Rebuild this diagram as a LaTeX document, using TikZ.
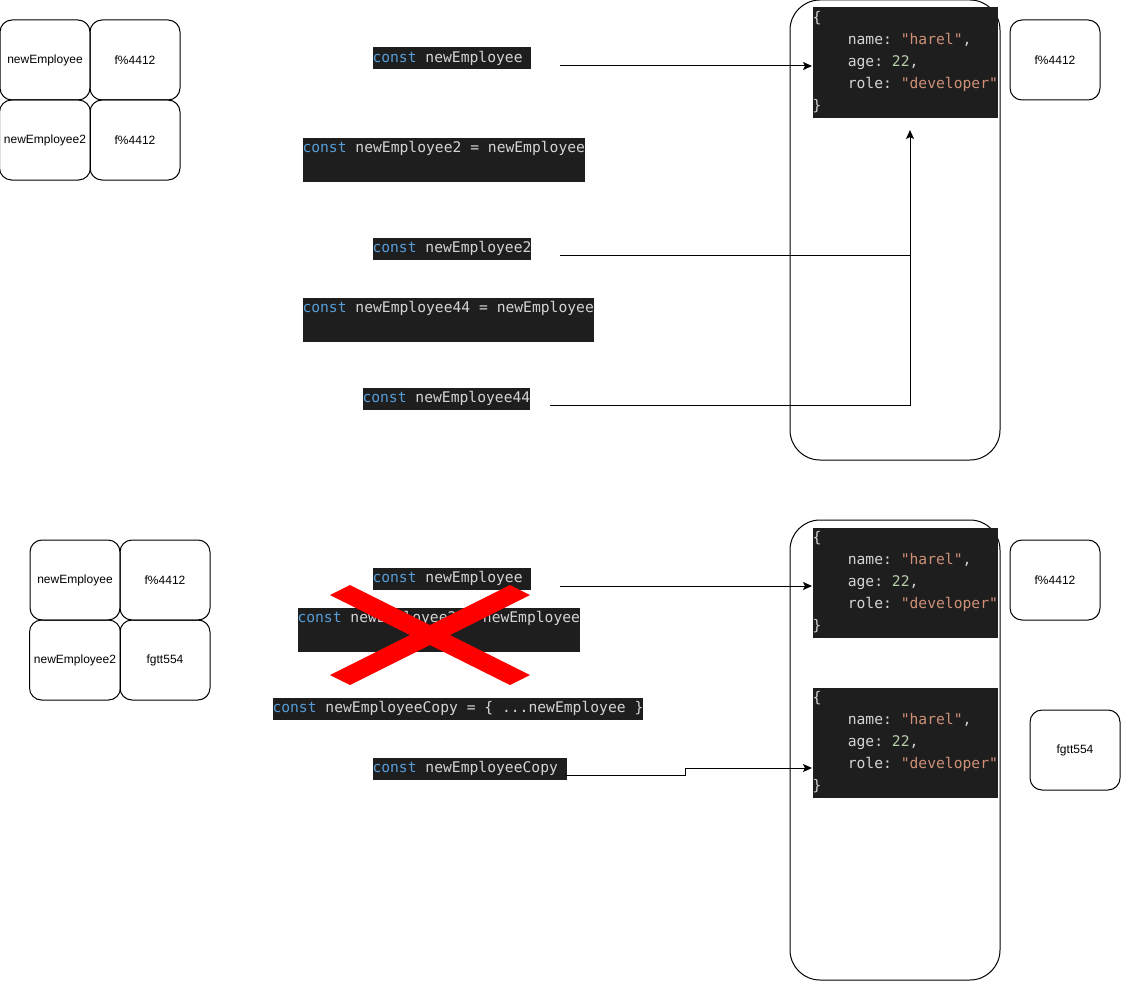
\documentclass[tikz,border=0pt]{standalone}
\usepackage{fontspec}
\setmainfont{Liberation Sans}
\setmonofont{DejaVu Sans Mono}
\usetikzlibrary{arrows.meta,positioning}
\definecolor{codebg}{HTML}{1E1E1E}
\definecolor{codefg}{HTML}{D4D4D4}
\definecolor{codekw}{HTML}{569CD6}
\definecolor{codestr}{HTML}{CE9178}
\definecolor{codenum}{HTML}{B5CEA8}
\newcommand{\codestrut}{\rule[-5pt]{0pt}{16.5pt}}
\newcommand{\jkw}[1]{\textcolor{codekw}{#1}}
\newcommand{\jstr}[1]{\textcolor{codestr}{#1}}
\newcommand{\jnum}[1]{\textcolor{codenum}{#1}}
\newcommand{\jsobj}{\codestrut\{\\
  \codestrut\phantom{role}name: \jstr{"harel"},\\
  \codestrut\phantom{role}age: \jnum{22},\\
  \codestrut\phantom{role}role: \jstr{"developer"}\\
  \codestrut\}}
\begin{document}
\begin{tikzpicture}[
  x=0.75pt, y=-0.75pt,
  memcell/.style={rectangle, draw, rounded corners=9pt, minimum width=67.5pt, minimum height=60pt, font=\fontsize{9}{11}\selectfont},
  heapbox/.style={rectangle, draw, rounded corners=22.5pt, minimum width=157.5pt, minimum height=345pt},
  codebox/.style={fill=codebg, text=codefg, inner sep=0pt, anchor=north west, align=left, font=\ttfamily\fontsize{11}{16.5}\selectfont},
  >={Stealth[length=6.75pt,width=6pt,inset=1.5pt]},
  line width=0.75pt,
  node distance=67.5pt
]
\useasboundingbox (0,0) rectangle (1121,981);

\node[memcell] (var1) at (45,60) {newEmployee};
\node[memcell, right of=var1] (ref1) {f\%4412};
\node[memcell, below of=var1, node distance=60pt] (var2) {newEmployee2};
\node[memcell, right of=var2] (ref2) {f\%4412};

\node[codebox] (c1) at (372,47) {\codestrut\jkw{const} newEmployee~};
\node[codebox] (c2) at (302,137) {\codestrut\jkw{const} newEmployee2 = newEmployee\\\codestrut};
\node[codebox] (c3) at (372,237) {\codestrut\jkw{const} newEmployee2};
\node[codebox] (c4) at (302,297) {\codestrut\jkw{const} newEmployee44 = newEmployee\\\codestrut};
\node[codebox] (c5) at (362,387) {\codestrut\jkw{const} newEmployee44};

\node[heapbox] (heap1) at (895,230) {};
\node[codebox] (obj1) at (812,7) {\jsobj};
\node[memcell] (addr1) at (1055,60) {f\%4412};

\coordinate (s1) at (560,66);
\coordinate (s2) at (560,255);
\coordinate (s3) at (550,405);
\coordinate (t3) at (910,130);
\draw[->] (s1) -- (s1 -| obj1.west);
\draw (s2) -- (s2 -| t3);
\draw[->] (s3) -| (t3);

\node[memcell] (var3) at (75,580) {newEmployee};
\node[memcell, right of=var3] (ref3) {f\%4412};
\node[memcell, below of=var3, node distance=60pt] (var4) {newEmployee2};
\node[memcell, right of=var4] (ref4) {fgtt554};

\node[codebox] (c6) at (372,567) {\codestrut\jkw{const} newEmployee~};
\node[codebox] (c7) at (297,607) {\codestrut\jkw{const} newEmployee2 = newEmployee\\\codestrut};
\node[codebox] (c8) at (272,697) {\codestrut\jkw{const} newEmployeeCopy = \{ ...newEmployee \}};
\node[codebox] (c9) at (372,757) {\codestrut\jkw{const} newEmployeeCopy~};

\fill[red] (330,595) -- (350,585) -- (430,625) -- (510,585) -- (530,595) -- (450,635)
  -- (530,675) -- (510,685) -- (430,645) -- (350,685) -- (330,675) -- (410,635) -- cycle;

\node[heapbox] (heap2) at (895,750) {};
\node[codebox] (obj2) at (812,527) {\jsobj};
\node[codebox] (obj3) at (812,687) {\jsobj};
\node[memcell] (addr2) at (1055,580) {f\%4412};
\node[memcell] (addr3) at (1075,750) {fgtt554};

\coordinate (s4) at (560,586);
\coordinate (s5) at (565,775);
\coordinate (k5) at (685,768);
\draw[->] (s4) -- (s4 -| obj2.west);
\draw[->] (s5) -| (k5) -- (k5 -| obj3.west);
\end{tikzpicture}
\end{document}
